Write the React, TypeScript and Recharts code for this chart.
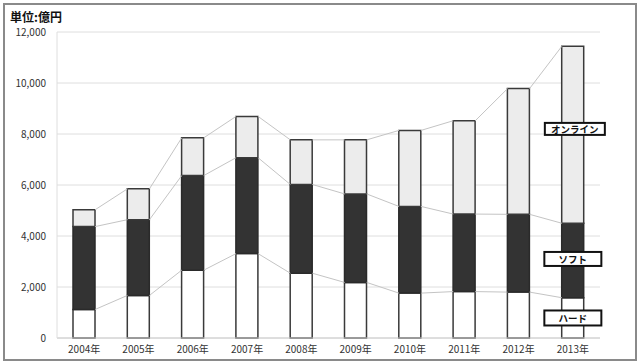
import React from 'react';
import { ComposedChart, Bar, Line, XAxis, YAxis, CartesianGrid, ReferenceDot } from 'recharts';

const years = ['2004年', '2005年', '2006年', '2007年', '2008年', '2009年', '2010年', '2011年', '2012年', '2013年'];
const hardware = [1120, 1670, 2660, 3310, 2540, 2180, 1760, 1820, 1800, 1580];
const software = [3250, 2970, 3710, 3760, 3480, 3470, 3400, 3040, 3050, 2920];
const online = [660, 1210, 1480, 1620, 1750, 2120, 2980, 3660, 4930, 6940];
const yTicks = [0, 2000, 4000, 6000, 8000, 10000, 12000];
const labelNames = ['オンライン', 'ソフト', 'ハード'];
const labelValues = [8200, 3100, 785];

const FONT = '"Noto Sans CJK JP", "Noto Sans", sans-serif';
const BAR_SIZE = 22;
const HALF = 0.2026; // half bar width in category units

const data = years.map((y, i) => ({ x: i, year: y, hard: hardware[i], soft: software[i], online: online[i] }));
const cumHard = hardware.slice();
const cumSoft = hardware.map((h, i) => h + software[i]);
const cumTotal = cumSoft.map((s, i) => s + online[i]);

function connector(levels: number[]) {
  const pts: { x: number; v: number | null }[] = [];
  for (let i = 0; i < levels.length - 1; i++) {
    pts.push({ x: i + HALF, v: levels[i] });
    pts.push({ x: i + 1 - HALF, v: levels[i + 1] });
    pts.push({ x: i + 1, v: null });
  }
  return pts;
}

const boxSizes = [
  { w: 60, h: 12, dx: 2 },
  { w: 57, h: 14, dx: 0 },
  { w: 57, h: 15, dx: 0 },
];

const LabelBox = (props: any) => {
  const { cx, cy, name, w, h, dx } = props;
  const x = cx + dx;
  return (
    <g>
      <rect x={x - w / 2} y={cy - h / 2} width={w} height={h} fill="#fff" stroke="#111" strokeWidth={2} />
      <text x={x} y={cy} textAnchor="middle" dominantBaseline="central" fontSize={9.5} fontWeight="bold" fill="#111" fontFamily={FONT}>
        {name}
      </text>
    </g>
  );
};

export default function App() {
  return (
    <div style={{ position: 'absolute', left: 0, top: 0, width: 640, height: 364, background: '#fff', fontFamily: FONT }}>
      <div
        style={{
          position: 'absolute',
          left: 3,
          top: 3,
          width: 630,
          height: 354,
          border: '2px solid #8a8a8a',
        }}
      />
      <div
        style={{
          position: 'absolute',
          left: 10,
          top: 9,
          fontSize: 12,
          fontWeight: 'bold',
          color: '#111',
          lineHeight: '16px',
        }}
      >
        単位:億円
      </div>
      <div style={{ position: 'absolute', left: 0, top: 0 }}>
        <ComposedChart width={640} height={364} data={data} margin={{ top: 32, right: 40, left: 0, bottom: 0 }}>
          <CartesianGrid vertical={false} stroke="#dedede" strokeWidth={1} />
          <XAxis
            dataKey="x"
            type="number"
            domain={[-0.5, 9.5]}
            ticks={years.map((_, i) => i)}
            tickFormatter={(v: number) => years[v] ?? ''}
            interval={0}
            height={26}
            tickLine={false}
            axisLine={{ stroke: '#cccccc' }}
            tick={{ fontSize: 10, fill: '#333', fontFamily: FONT }}
            allowDataOverflow
          />
          <XAxis xAxisId="conn" dataKey="x" type="number" domain={[-0.5, 9.5]} hide allowDataOverflow />
          <YAxis
            type="number"
            domain={[0, 12000]}
            ticks={yTicks}
            width={57}
            tickLine={false}
            tickSize={9}
            axisLine={{ stroke: '#dedede' }}
            tickFormatter={(v: number) => v.toLocaleString('en-US')}
            tick={{ fontSize: 10, fill: '#333', fontFamily: FONT }}
          />
          <Line xAxisId="conn" data={connector(cumHard)} dataKey="v" stroke="#c4c4c4" strokeWidth={1} dot={false} activeDot={false} connectNulls={false} isAnimationActive={false} />
          <Line xAxisId="conn" data={connector(cumSoft)} dataKey="v" stroke="#c4c4c4" strokeWidth={1} dot={false} activeDot={false} connectNulls={false} isAnimationActive={false} />
          <Line xAxisId="conn" data={connector(cumTotal)} dataKey="v" stroke="#c4c4c4" strokeWidth={1} dot={false} activeDot={false} connectNulls={false} isAnimationActive={false} />
          <Bar dataKey="hard" stackId="a" barSize={BAR_SIZE} fill="#ffffff" stroke="#3a3a3a" strokeWidth={1.5} isAnimationActive={false} />
          <Bar dataKey="soft" stackId="a" barSize={BAR_SIZE} fill="#333333" stroke="#2a2a2a" strokeWidth={1.5} isAnimationActive={false} />
          <Bar dataKey="online" stackId="a" barSize={BAR_SIZE} fill="#ececec" stroke="#3a3a3a" strokeWidth={1.5} isAnimationActive={false} />
          {labelNames.map((name, i) => (
            <ReferenceDot
              key={name}
              x={years.length - 1}
              y={labelValues[i]}
              r={0}
              ifOverflow="visible"
              shape={(p: any) => <LabelBox {...p} name={name} w={boxSizes[i].w} h={boxSizes[i].h} dx={boxSizes[i].dx} />}
            />
          ))}
        </ComposedChart>
      </div>
    </div>
  );
}
